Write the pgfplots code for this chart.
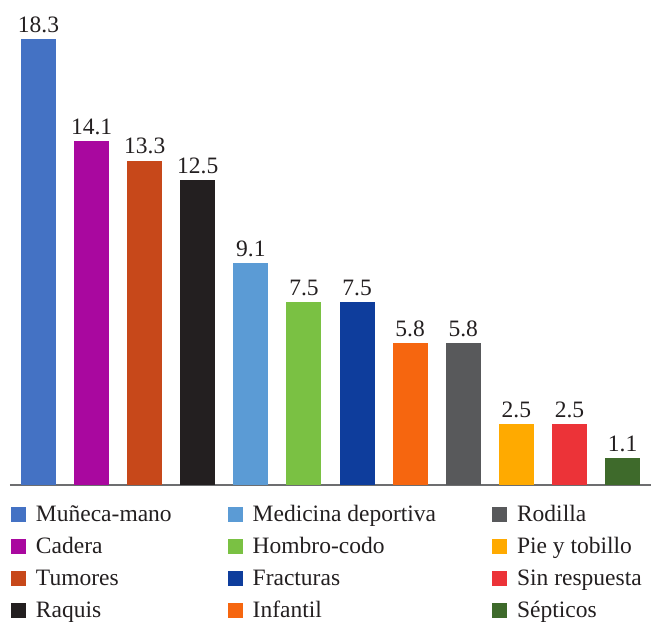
\documentclass[border=0pt]{standalone}
\usepackage{fontspec}
\setmainfont{Liberation Serif}
\usepackage{pgfplots}
\pgfplotsset{compat=1.18}

\definecolor{cMun}{HTML}{4472C4}
\definecolor{cCad}{HTML}{A9089F}
\definecolor{cTum}{HTML}{C7481A}
\definecolor{cRaq}{HTML}{231F20}
\definecolor{cMed}{HTML}{5B9BD5}
\definecolor{cHom}{HTML}{7AC143}
\definecolor{cFra}{HTML}{0E3D9C}
\definecolor{cInf}{HTML}{F6660F}
\definecolor{cRod}{HTML}{58595B}
\definecolor{cPie}{HTML}{FFAA00}
\definecolor{cSin}{HTML}{EC3338}
\definecolor{cSep}{HTML}{3E6A2B}
\definecolor{txt}{HTML}{231F20}
\definecolor{axisgray}{HTML}{6D6E70}

\begin{document}
\begin{tikzpicture}
\useasboundingbox (0,0) rectangle (651pt,624pt);
\begin{axis}[
  at={(9.83pt,139pt)}, anchor=south west,
  scale only axis, width=641.4pt, height=485pt,
  xmin=-0.54, xmax=11.54, ymin=0, ymax=19.88,
  axis y line=none, axis x line*=bottom,
  x axis line style={axisgray, line width=2pt},
  xtick=\empty, ytick=\empty,
  clip=false,
  ybar, bar width=35pt,
  every axis plot/.append style={bar shift=0pt, draw=none},
  nodes near coords,
  point meta=y,
  /pgf/number format/.cd, fixed, fixed zerofill, precision=1, assume math mode=true,
  /pgfplots/.cd,
  every node near coord/.append style={font=\fontsize{23.5}{28}\selectfont, text=txt, anchor=south, inner sep=0pt, yshift=6pt},
  legend columns=3,
  legend style={at={(0.0018,-0.0400)}, anchor=north west, draw=none, fill=none,
    inner sep=0pt, outer sep=0pt, font=\fontsize{23.5}{28}\selectfont, text=txt,
    row sep=11.0pt,
    /tikz/every odd column/.append style={column sep=10pt},
    /tikz/every even column/.append style={column sep=56pt},
    nodes={inner sep=0pt, text height=17pt, text depth=4pt}},
  legend cell align=left,
  legend image code/.code={\fill[#1] (0pt,-7.5pt) rectangle (15pt,7.5pt);},
]
% entries listed row by row so the three legend columns read top to bottom
\addplot[fill=cMun] coordinates {(0,18.3)};  \addlegendentry{Muñeca-mano}
\addplot[fill=cMed] coordinates {(4,9.1)};   \addlegendentry{Medicina deportiva}
\addplot[fill=cRod] coordinates {(8,5.8)};   \addlegendentry{Rodilla}
\addplot[fill=cCad] coordinates {(1,14.1)};  \addlegendentry{Cadera}
\addplot[fill=cHom] coordinates {(5,7.5)};   \addlegendentry{Hombro-codo}
\addplot[fill=cPie] coordinates {(9,2.5)};   \addlegendentry{Pie y tobillo}
\addplot[fill=cTum] coordinates {(2,13.3)};  \addlegendentry{Tumores}
\addplot[fill=cFra] coordinates {(6,7.5)};   \addlegendentry{Fracturas}
\addplot[fill=cSin] coordinates {(10,2.5)};  \addlegendentry{Sin respuesta}
\addplot[fill=cRaq] coordinates {(3,12.5)};  \addlegendentry{Raquis}
\addplot[fill=cInf] coordinates {(7,5.8)};   \addlegendentry{Infantil}
\addplot[fill=cSep] coordinates {(11,1.1)};  \addlegendentry{Sépticos}
\end{axis}
\end{tikzpicture}
\end{document}
